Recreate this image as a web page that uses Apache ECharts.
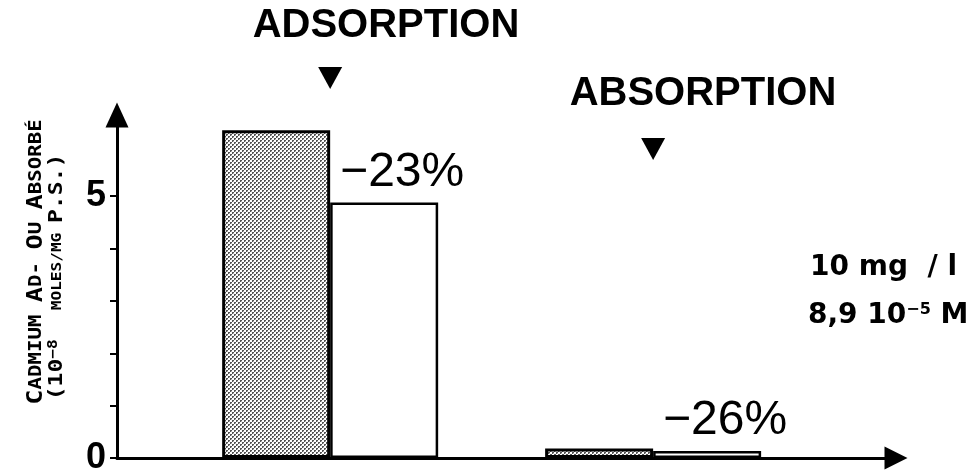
<!DOCTYPE html>
<html>
<head>
<meta charset="utf-8">
<script src="https://cdn.jsdelivr.net/npm/echarts@6/dist/echarts.min.js"></script>
<style>
  html, body { margin: 0; padding: 0; background: #fff; }
  #chart { width: 972px; height: 476px; }
</style>
</head>
<body>
<div id="chart"></div>
<script>
// data
var groups = ['ADSORPTION', 'ABSORPTION'];
var groupPos = [1, 2];                 // position of each group on the x scale
var before = [6.26, 0.18];             // dotted bars
var after = [4.88, 0.135];             // white bars
var pctLabels = ['\u221223%', '\u221226%'];
var yTicks = [0, 1, 2, 3, 4, 5];
var yLabels = [0, 5];

// dot pattern for the shaded bars
function dotPattern() {
  var c = document.createElement('canvas');
  c.width = 4; c.height = 4;
  var g = c.getContext('2d');
  g.fillStyle = '#fff';
  g.fillRect(0, 0, 4, 4);
  g.fillStyle = '#555';
  g.fillRect(0, 0, 2, 2);
  g.fillRect(2, 2, 2, 2);
  g.fillStyle = '#bbb';
  g.fillRect(1, 1, 1, 1);
  g.fillRect(3, 3, 1, 1);
  return c;
}

var chart = echarts.init(document.getElementById('chart'));

var option = {
  animation: false,
  backgroundColor: '#fff',
  grid: { left: 117, right: 76, top: 115, bottom: 14 },
  xAxis: {
    type: 'value',
    min: 0.34,
    max: 2.752,
    axisLine: { show: true, symbol: ['none', 'triangle'], symbolSize: [23, 23], lineStyle: { color: '#000', width: 3 } },
    axisTick: { show: false },
    axisLabel: { show: false },
    splitLine: { show: false }
  },
  yAxis: {
    type: 'value',
    min: 0,
    max: 6.55,
    axisLine: { show: true, symbol: ['none', 'triangle'], symbolSize: [23, 25], lineStyle: { color: '#000', width: 3 } },
    axisTick: { show: true, customValues: yTicks, length: 7, lineStyle: { color: '#000', width: 2 } },
    axisLabel: {
      customValues: yLabels, margin: 11,
      fontFamily: 'Liberation Sans', fontWeight: 'bold', fontSize: 36, color: '#000'
    },
    splitLine: { show: false }
  },
  series: [
    {
      type: 'bar',
      name: 'before',
      barWidth: 108,
      barGap: '0%',
      data: groupPos.map(function (p, i) { return [p, before[i]]; }),
      itemStyle: { color: { image: dotPattern(), repeat: 'repeat' }, borderColor: '#000', borderWidth: 3 }
    },
    {
      type: 'bar',
      name: 'after',
      barWidth: 108,
      barGap: '0%',
      data: groupPos.map(function (p, i) { return [p, after[i]]; }),
      itemStyle: { color: '#fff', borderColor: '#000', borderWidth: 2.5 },
      label: {
        show: true,
        position: 'top',
        distance: 6,
        offset: [18, 0],
        formatter: function (p) { return pctLabels[p.dataIndex]; },
        fontFamily: 'Liberation Sans', fontSize: 48, color: '#000'
      }
    }
  ]
};
chart.setOption(option);

// annotations: group titles with arrows, concentration note, y axis name
var tri1 = chart.convertToPixel({ gridIndex: 0 }, [groupPos[0], 0])[0];
var tri2 = chart.convertToPixel({ gridIndex: 0 }, [groupPos[1], 0])[0];
function triangle(cx, top) {
  return { type: 'polygon', shape: { points: [[cx - 12, top], [cx + 12, top], [cx, top + 22]] }, style: { fill: '#000' } };
}
var titleFont = 'bold 40px "Liberation Sans"';

chart.setOption({
  graphic: [
    { type: 'text', x: 386, y: 26, style: { text: groups[0], font: titleFont, fill: '#000', align: 'center', verticalAlign: 'middle' } },
    { type: 'text', x: 703, y: 94, style: { text: groups[1], font: titleFont, fill: '#000', align: 'center', verticalAlign: 'middle' } },
    triangle(tri1, 67),
    triangle(tri2, 138),
    {
      type: 'text', x: 810, y: 268,
      style: { text: '10 mg  / l', font: 'bold 28px "DejaVu Sans"', fill: '#000', align: 'left', verticalAlign: 'middle' }
    },
    {
      type: 'text', x: 808, y: 316,
      style: {
        text: '{n|8,9 10}{s|\u22125}{n| M}',
        align: 'left', verticalAlign: 'middle',
        rich: {
          n: { font: 'bold 28px "DejaVu Sans"', fill: '#000' },
          s: { font: 'bold 16px "DejaVu Sans"', fill: '#000', padding: [0, 0, 12, 0] }
        }
      }
    },
    {
      type: 'text', x: 36, y: 262, rotation: Math.PI / 2, scaleX: 1.15,
      style: {
        text: '{a|C}{b|ADMIUM }{a|A}{b|D- }{a|O}{b|U }{a|A}{b|BSORBÉ}',
        align: 'center', verticalAlign: 'middle',
        rich: {
          a: { font: 'bold 22px "DejaVu Sans Mono"', fill: '#000' },
          b: { font: 'bold 18px "DejaVu Sans Mono"', fill: '#000' }
        }
      }
    },
    {
      type: 'text', x: 57, y: 277, rotation: Math.PI / 2, scaleX: 1.15,
      style: {
        text: '{a|(10}{s|\u22128}{b|   MOLES/MG }{a|P.S.)}',
        align: 'center', verticalAlign: 'middle',
        rich: {
          a: { font: 'bold 20px "DejaVu Sans Mono"', fill: '#000' },
          s: { font: 'bold 14px "DejaVu Sans Mono"', fill: '#000', padding: [0, 0, 8, 0] },
          b: { font: 'bold 14px "DejaVu Sans Mono"', fill: '#000' }
        }
      }
    }
  ]
});
</script>
</body>
</html>
